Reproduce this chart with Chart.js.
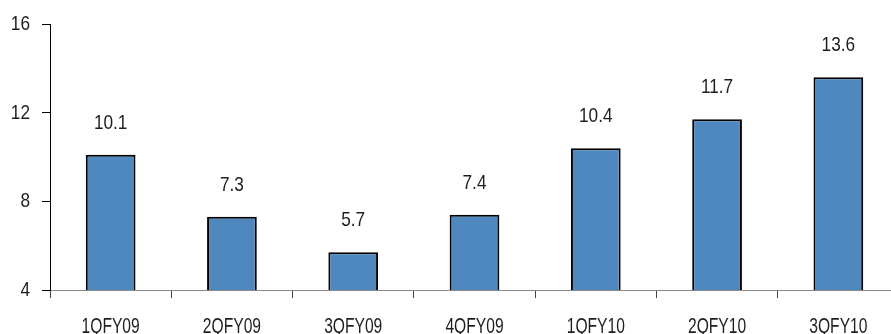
<!DOCTYPE html>
<html>
<head>
<meta charset="utf-8">
<script src="https://cdn.jsdelivr.net/npm/chart.js@4"></script>
<style>
  html, body { margin: 0; padding: 0; background: #fff; overflow: hidden; }
  #wrap { width: 899px; height: 334px; }
</style>
</head>
<body>
<div id="wrap"><canvas id="barChart" width="899" height="334"></canvas></div>
<script>
// chart data
var quarters = ['1QFY09', '2QFY09', '3QFY09', '4QFY09', '1QFY10', '2QFY10', '3QFY10'];
var values = [10.1, 7.3, 5.7, 7.4, 10.4, 11.7, 13.6];
var yTicks = [4, 8, 12, 16];

var fontFamily = '"Liberation Sans", Arial, sans-serif';
var textColor = '#1e1e1e';

// draw text squeezed horizontally (no narrow font installed)
function narrowText(ctx, text, x, y, align, squeeze) {
    ctx.save();
    ctx.translate(x, y);
    ctx.scale(squeeze, 1);
    ctx.textAlign = align;
    ctx.fillText(text, 0, 0);
    ctx.restore();
}

// all labels: axis ticks and values above the bars
var chartText = {
    id: 'chartText',
    afterDraw: function (chart) {
        var ctx = chart.ctx;
        var xs = chart.scales.x;
        var ys = chart.scales.y;
        var meta = chart.getDatasetMeta(0);
        ctx.save();
        ctx.fillStyle = textColor;
        ctx.textBaseline = 'alphabetic';

        ctx.font = '21px ' + fontFamily;
        yTicks.forEach(function (v) {
            narrowText(ctx, String(v), 30, ys.getPixelForValue(v) + 6, 'right', 0.82);
        });
        meta.data.forEach(function (bar, i) {
            narrowText(ctx, values[i].toFixed(1), bar.x, bar.y - 26, 'center', 0.82);
        });
        ctx.font = '22px ' + fontFamily;
        quarters.forEach(function (q, i) {
            narrowText(ctx, q, xs.getPixelForValue(i), 333, 'center', 0.71);
        });
        ctx.restore();
    }
};

document.addEventListener("DOMContentLoaded", function () {
    var ctx = document.getElementById('barChart').getContext('2d');
    new Chart(ctx, {
        type: 'bar',
        data: {
            labels: quarters,
            datasets: [{
                data: values,
                backgroundColor: '#4E88BE',
                borderColor: '#000000',
                borderWidth: 2,
                borderSkipped: false,
                categoryPercentage: 1,
                barPercentage: 0.41
            }]
        },
        options: {
            responsive: false,
            animation: false,
            devicePixelRatio: 1,
            layout: { padding: { top: 24, right: 0, left: 0, bottom: 0 } },
            plugins: {
                legend: { display: false },
                tooltip: { enabled: false }
            },
            scales: {
                x: {
                    offset: true,
                    grid: {
                        offset: true,
                        drawOnChartArea: false,
                        drawTicks: true,
                        tickLength: 8,
                        color: '#444444'
                    },
                    border: { color: '#888888', width: 1 },
                    ticks: { display: false },
                    afterFit: function (scale) { scale.height = 44; }
                },
                y: {
                    min: 4,
                    max: 16,
                    afterBuildTicks: function (scale) {
                        scale.ticks = yTicks.map(function (v) { return { value: v }; });
                    },
                    grid: {
                        drawOnChartArea: false,
                        drawTicks: true,
                        tickLength: 8,
                        color: '#000000'
                    },
                    border: { color: '#000000', width: 1 },
                    ticks: { display: false },
                    afterFit: function (scale) { scale.width = 50; }
                }
            }
        },
        plugins: [chartText]
    });
});
</script>
</body>
</html>
